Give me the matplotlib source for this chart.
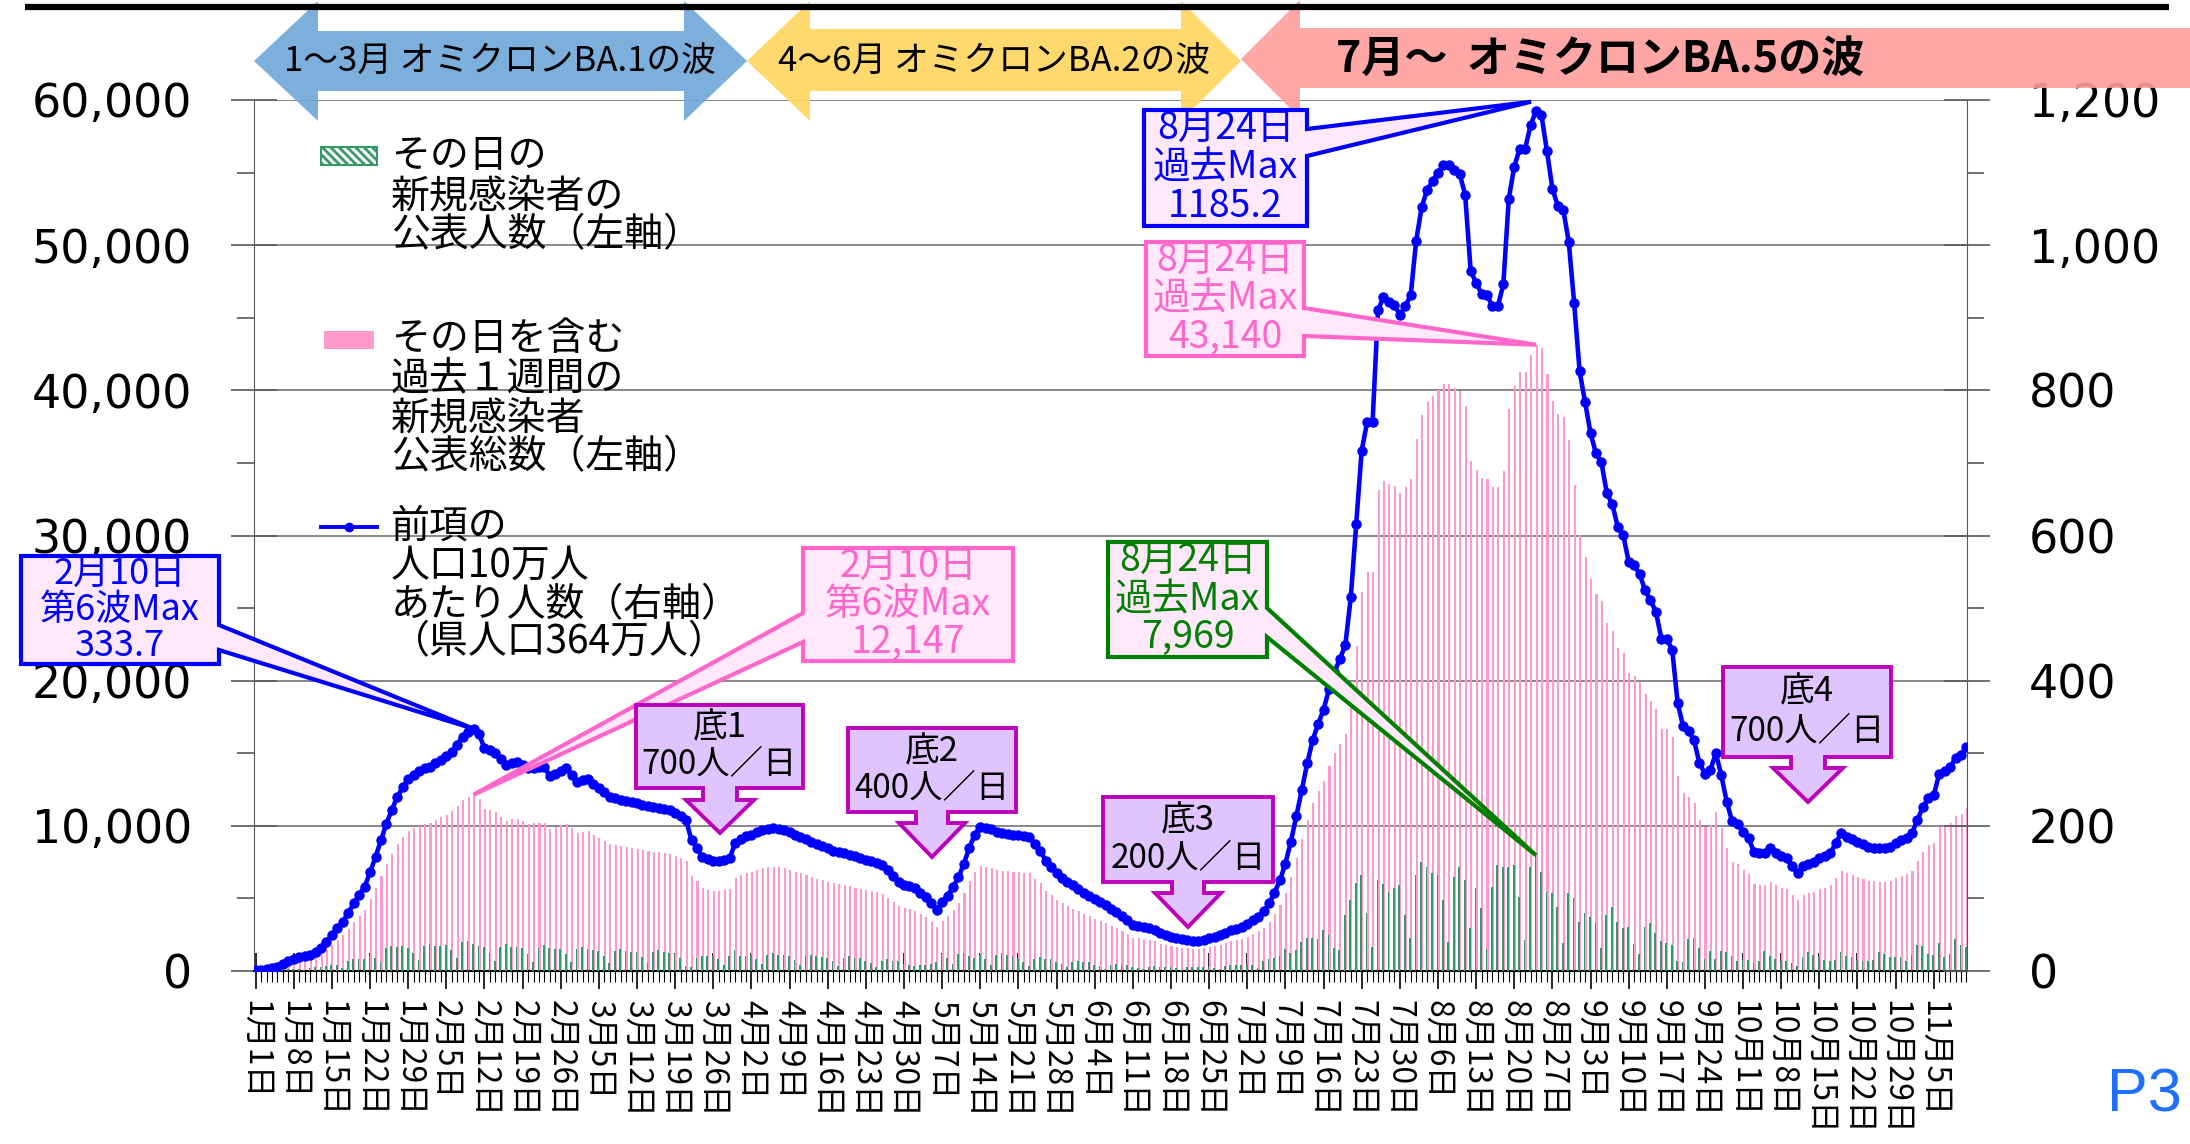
import numpy as np
import pandas as pd
import matplotlib
matplotlib.use('Agg')
import matplotlib.pyplot as plt
from matplotlib.patches import Polygon, Rectangle
from matplotlib.ticker import MultipleLocator, FuncFormatter

plt.rcParams['font.family'] = ['Noto Sans CJK JP', 'DejaVu Sans']
plt.rcParams['hatch.linewidth'] = 2.0

# データ（2022/1/1 〜 11/11）
# 人口10万人あたりの過去1週間の新規感染者数（右軸）
per100k = [
    1, 2, 3, 4, 6, 10, 14,
    17, 19, 21, 22, 26, 31, 40,
    50, 59, 68, 80, 93, 105, 116,
    136, 157, 180, 203, 222, 240, 253,
    265, 270, 275, 279, 281, 286, 291,
    296, 302, 312, 323, 329, 333.71, 326,
    307, 304, 300, 292, 284, 287, 288,
    284, 279, 280, 281, 281, 268, 272,
    276, 279, 270, 261, 263, 265, 258,
    252, 246, 240, 238, 236, 234, 233,
    231, 229, 227, 226, 225, 223, 222,
    218, 213, 208, 180, 170, 157, 154,
    151, 151, 153, 155, 176, 182, 186,
    188, 191, 194, 196, 197, 196, 194,
    191, 188, 185, 182, 178, 175, 172,
    169, 166, 164, 162, 160, 158, 155,
    153, 151, 149, 146, 139, 131, 123,
    119, 117, 114, 108, 102, 93, 84,
    95, 104, 116, 129, 148, 170, 188,
    199, 197, 195, 192, 190, 189, 188,
    187, 186, 185, 175, 166, 152, 143,
    135, 128, 123, 118, 113, 108, 104,
    99, 95, 91, 86, 81, 76, 70,
    63, 62, 61, 59, 56, 52, 49,
    47, 45, 44, 43, 42, 42, 43,
    45, 47, 50, 53, 56, 58, 61,
    65, 70, 75, 82, 93, 108, 125,
    148, 178, 213, 249, 286, 318, 340,
    360, 388, 412, 430, 449, 515, 616,
    717, 756, 756, 911, 928, 922, 918,
    904, 916, 931, 1006, 1052, 1076, 1088,
    1100, 1110, 1110, 1103, 1098, 1069, 965,
    948, 933, 931, 916, 916, 946, 1064,
    1108, 1133, 1133, 1165, 1185.16, 1179, 1130,
    1078, 1054, 1049, 1005, 920, 826, 784,
    741, 713, 701, 658, 643, 612, 601,
    564, 559, 547, 525, 511, 495, 458,
    458, 442, 369, 337, 330, 318, 286,
    272, 277, 300, 270, 233, 206, 203,
    192, 183, 164, 163, 162, 169, 162,
    158, 155, 144, 135, 144, 148, 150,
    155, 158, 162, 176, 190, 185, 182,
    178, 175, 171, 170, 169, 169, 171,
    176, 180, 183, 190, 208, 226, 238,
    242, 272, 275, 281, 293, 298, 309,
]

# その日の新規感染者の公表人数（左軸）
daily = [
    40, 35, 25, 70, 100, 110, 130,
    150, 120, 80, 210, 290, 280, 330,
    420, 380, 230, 700, 830, 800, 860,
    1050, 900, 600, 1550, 1750, 1650, 1700,
    1600, 1250, 750, 1750, 1850, 1700, 1700,
    1800, 1450, 900, 2000, 2100, 1850, 1750,
    1680, 1270, 670, 1680, 1870, 1680, 1630,
    1580, 1200, 640, 1580, 1770, 1580, 1540,
    1500, 1140, 600, 1500, 1680, 1500, 1460,
    1360, 1030, 545, 1360, 1515, 1360, 1320,
    1290, 980, 520, 1290, 1440, 1290, 1260,
    1180, 900, 350, 300, 900, 1000, 1000,
    1050, 850, 400, 1000, 1450, 1050, 1000,
    1130, 860, 450, 1130, 1260, 1130, 1100,
    1000, 760, 400, 1000, 1120, 1000, 975,
    900, 685, 365, 900, 1010, 900, 880,
    715, 545, 290, 715, 800, 715, 700,
    480, 400, 350, 380, 400, 450, 600,
    1200, 900, 450, 1150, 1250, 1000, 900,
    1100, 830, 440, 1100, 1220, 1100, 1065,
    830, 630, 335, 830, 930, 830, 810,
    605, 460, 245, 605, 675, 605, 590,
    410, 310, 165, 410, 455, 410, 395,
    285, 215, 115, 285, 320, 285, 280,
    250, 190, 100, 250, 280, 250, 245,
    300, 230, 140, 350, 400, 380, 420,
    450, 380, 230, 700, 850, 900, 1040,
    1500, 1260, 1450, 2020, 2300, 2300, 2200,
    2800, 2480, 1560, 1450, 3860, 4890, 6040,
    6610, 3970, 1680, 6270, 6000, 5460, 5690,
    5920, 3860, 2250, 6610, 7530, 7190, 6730,
    6610, 4890, 2020, 6500, 7190, 6270, 2940,
    5690, 4320, 1500, 5810, 7300, 7190, 7190,
    7300, 5120, 2130, 7190, 7969, 6840, 5460,
    5350, 4430, 1950, 5350, 5010, 3400, 3970,
    3740, 3280, 1560, 3860, 4430, 3400, 2940,
    3000, 1850, 1200, 3000, 3300, 2600, 2050,
    1900, 1800, 700, 620, 2200, 2300, 1600,
    800, 1400, 800, 1350, 1300, 1050, 700,
    780, 780, 580, 720, 1400, 1000, 850,
    720, 680, 520, 310, 930, 1340, 1100,
    930, 780, 680, 780, 1300, 1050, 930,
    780, 680, 680, 780, 1300, 1140, 990,
    930, 930, 720, 1100, 1820, 1720, 1200,
    1100, 1900, 930, 1200, 2230, 1820, 1670,
]

pop_100k = 36.4   # 県人口364万人 = 10万人 x 36.4
weekly = np.round(np.array(per100k) * pop_100k)   # 過去1週間の公表総数

dates = pd.date_range('2022-01-01', periods=len(per100k))
tick_pos = np.arange(0, len(per100k), 7)
tick_labels = [f'{d.month}月{d.day}日' for d in dates[tick_pos]]

wave_labels = ['1〜3月 オミクロンBA.1の波', '4〜6月 オミクロンBA.2の波', '7月〜  オミクロンBA.5の波']

# 図
W, H = 2190, 1144
fig = plt.figure(figsize=(W / 100, H / 100), dpi=100)
ax = fig.add_axes([254 / W, 1 - 971 / H, (1967 - 254) / W, (971 - 100) / H])
x = np.arange(len(per100k))

ax.bar(x + 0.1, weekly, width=0.38, color='#FF99CC', zorder=2)
ax.bar(x - 0.1, daily, width=0.32, color='#339966', zorder=3)
ax.set_xlim(-0.3, len(x) - 0.9)
ax.set_ylim(0, 60000)
ax.set_axisbelow(True)
ax.yaxis.grid(True, color='#7F7F7F', lw=1.3)
ax.yaxis.set_major_locator(MultipleLocator(10000))
ax.yaxis.set_minor_locator(MultipleLocator(5000))
ax.yaxis.set_major_formatter(FuncFormatter(lambda v, p: f'{int(v):,}'))
ax.tick_params(axis='y', which='major', direction='inout', length=33, width=1.2,
               color='#595959', labelsize=33, pad=28, labelfontfamily='DejaVu Sans')
ax.tick_params(axis='y', which='minor', direction='out', length=12, width=1.2, color='#595959')
ax.set_xticks(tick_pos)
ax.set_xticklabels(tick_labels, rotation=270, fontsize=23)
ax.xaxis.set_minor_locator(MultipleLocator(1))
ax.tick_params(axis='x', which='major', direction='inout', length=26, width=1.2, color='black', pad=8)
ax.tick_params(axis='x', which='minor', direction='out', length=8, width=0.8, color='black')
ax.spines['top'].set_visible(False)
ax.spines['right'].set_visible(False)
ax.spines['left'].set_color('#595959')
ax.spines['bottom'].set_linewidth(1.5)

ax2 = ax.twinx()
ax2.plot(x, per100k, '-o', color='#0000FF', lw=3.3, ms=7.5, mew=0, zorder=5)
ax2.set_ylim(0, 1200)
ax2.yaxis.set_major_locator(MultipleLocator(200))
ax2.yaxis.set_minor_locator(MultipleLocator(100))
ax2.yaxis.set_major_formatter(FuncFormatter(lambda v, p: f'{int(v):,}'))
ax2.tick_params(axis='y', which='major', direction='inout', length=33, width=1.2,
                color='#595959', labelsize=33, pad=28, labelfontfamily='DejaVu Sans')
ax2.tick_params(axis='y', which='minor', direction='out', length=12, width=1.2, color='#595959')
for s in ['top', 'left', 'bottom']:
    ax2.spines[s].set_visible(False)
ax2.spines['right'].set_color('#595959')

# 注記用のピクセル座標レイヤー
ov = fig.add_axes([0, 0, 1, 1], zorder=10)
ov.set_xlim(0, W)
ov.set_ylim(H, 0)
ov.axis('off')
ov.patch.set_visible(False)


def to_px(a, xv, yv):
    dx, dy = a.transData.transform((xv, yv))
    return dx, H - dy


# 上部の矢印
ov.plot([25, 2169], [7, 7], color='black', lw=4.5, solid_capstyle='butt')
ov.add_patch(Polygon([(254, 61), (318, 1), (318, 31), (684, 31), (684, 1), (747, 61),
                      (684, 121), (684, 91), (318, 91), (318, 121)], fc='#6FA6DA', ec='none', alpha=0.9))
ov.add_patch(Polygon([(747, 61), (810, 1), (810, 29), (1181, 29), (1181, 1), (1241, 61),
                      (1181, 121), (1181, 91), (810, 91), (810, 121)], fc='#FFD55E', ec='none', alpha=0.9))
ov.add_patch(Polygon([(1241, 59), (1300, 0), (1300, 28), (2190, 28), (2190, 88), (1300, 88),
                      (1300, 118)], fc='#FF9C9C', ec='none', alpha=0.9))
ov.text(500, 61, wave_labels[0], fontsize=25, ha='center', va='center')
ov.text(994, 61, wave_labels[1], fontsize=25, ha='center', va='center')
ov.text(1600, 59, wave_labels[2], fontsize=31, fontweight='bold', ha='center', va='center')

# 凡例
ov.add_patch(Rectangle((321, 147), 56, 18, fc='white', ec='#339966', hatch='\\\\\\\\', lw=1.5))
ov.add_patch(Rectangle((324, 331), 50, 18, fc='#FF99CC', ec='none'))
ov.plot([321, 377], [527, 527], color='#0000FF', lw=2.8)
ov.plot([349], [527], 'o', color='#0000FF', ms=6)
legend_lines = [
    ('その日の', 156), ('新規感染者の', 196), ('公表人数（左軸）', 235),
    ('その日を含む', 339), ('過去１週間の', 378), ('新規感染者', 418), ('公表総数（左軸）', 457),
    ('前項の', 527), ('人口10万人', 566), ('あたり人数（右軸）', 605), ('（県人口364万人）', 642),
]
for t, yy in legend_lines:
    ov.text(391, yy, t, fontsize=28, ha='left', va='center')


# 吹き出し
def callout(box, side, base, tip, ec, lines, tc, fs=27):
    x0, y0, x1, y1 = box
    b0, b1 = base
    if side == 'right':
        pts = [(x0, y0), (x1, y0), (x1, b0), tip, (x1, b1), (x1, y1), (x0, y1)]
    else:
        pts = [(x0, y0), (x1, y0), (x1, y1), (x0, y1), (x0, b1), tip, (x0, b0)]
    ov.add_patch(Polygon(pts, closed=True, fc='#FFE8FA', ec=ec, lw=3, joinstyle='miter'))
    h = (y1 - y0) / len(lines)
    for i, t in enumerate(lines):
        ov.text((x0 + x1) / 2, y0 + h * (i + 0.5), t, color=tc, fontsize=fs, ha='center', va='center')


pk = int(np.argmax(per100k[:100]))
mx = int(np.argmax(per100k))
callout((21, 556, 219, 664), 'right', (625, 650), to_px(ax2, pk, per100k[pk]), '#0000FF',
        [f'{dates[pk].month}月{dates[pk].day}日', '第6波Max', f'{per100k[pk]:.1f}'], '#0000FF', fs=26)
callout((803, 548, 1013, 661), 'left', (613, 642), to_px(ax, pk, weekly[pk]), '#FF66CC',
        [f'{dates[pk].month}月{dates[pk].day}日', '第6波Max', f'{int(weekly[pk]):,}'], '#FF66CC')
callout((1108, 542, 1267, 657), 'right', (608, 637), to_px(ax, mx, daily[mx]), '#008000',
        [f'{dates[mx].month}月{dates[mx].day}日', '過去Max', f'{daily[mx]:,}'], '#008000')
tx, ty = to_px(ax2, mx, per100k[mx])
callout((1144, 110, 1307, 226), 'right', (129, 156), (tx - 5, ty - 9), '#0000FF',
        [f'{dates[mx].month}月{dates[mx].day}日', '過去Max', f'{per100k[mx]:.1f}'], '#0000FF')
callout((1146, 242, 1304, 356), 'right', (308, 336), to_px(ax, mx, weekly[mx]), '#FF66CC',
        [f'{dates[mx].month}月{dates[mx].day}日', '過去Max', f'{int(weekly[mx]):,}'], '#FF66CC')


def bottom_callout(box, cx, sw, hw, yh, yt, title, text):
    x0, y0, x1, y1 = box
    pts = [(x0, y0), (x1, y0), (x1, y1), (cx + sw, y1), (cx + sw, yh), (cx + hw, yh), (cx, yt),
           (cx - hw, yh), (cx - sw, yh), (cx - sw, y1), (x0, y1)]
    ov.add_patch(Polygon(pts, closed=True, fc='#E0C4FF', ec='#BB00BB', lw=2.8, joinstyle='miter'))
    h = y1 - y0
    ov.text((x0 + x1) / 2, y0 + h * 0.28, title, fontsize=25, ha='center', va='center')
    ov.text((x0 + x1) / 2, y0 + h * 0.72, text, fontsize=24, ha='center', va='center')


bottom_callout((636, 705, 803, 788), 720, 17, 34, 800, 833, '底1', '700人／日')
bottom_callout((848, 728, 1016, 812), 932, 16, 33, 823, 857, '底2', '400人／日')
bottom_callout((1103, 797, 1273, 882), 1188, 16, 33, 893, 927, '底3', '200人／日')
bottom_callout((1723, 667, 1891, 757), 1808, 17, 35, 768, 802, '底4', '700人／日')

ov.text(2144, 1096, 'P3', color='#1F6FFF', fontsize=44, ha='center', va='center', family='Liberation Sans')

fig.savefig('out.png', dpi=100)
